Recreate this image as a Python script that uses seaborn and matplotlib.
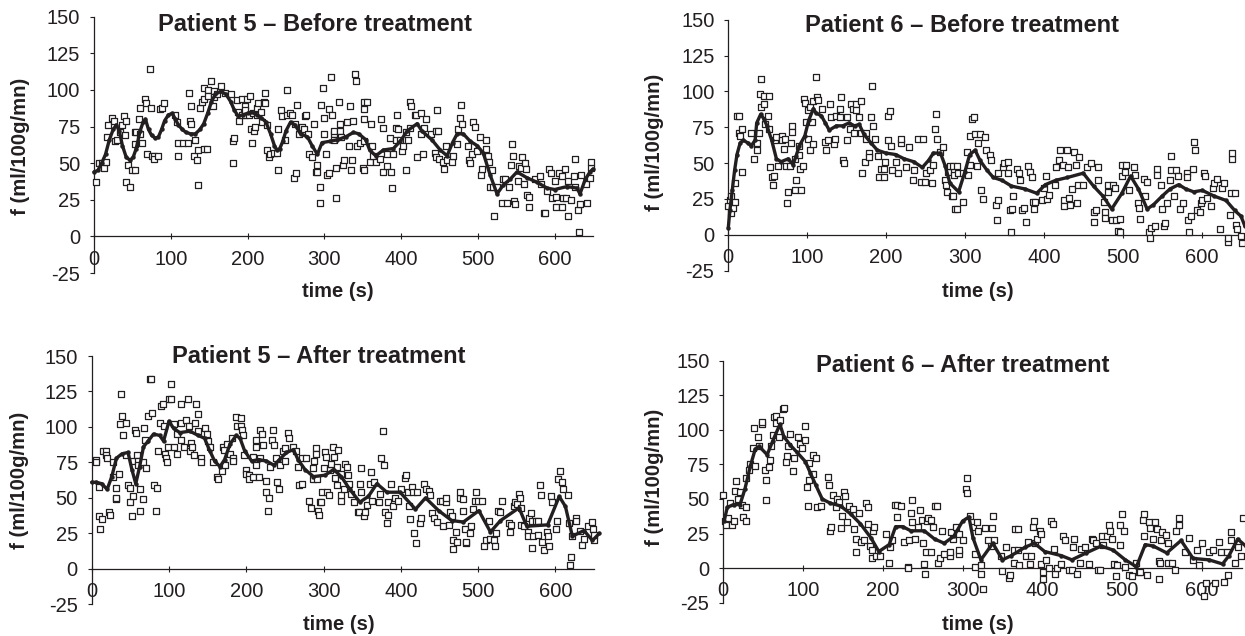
import pandas as pd
import matplotlib
matplotlib.use('Agg')
import matplotlib.pyplot as plt
import seaborn as sns

INK = '#231f20'

# open squares, (time s, f)
p5_before_points = [(3,37),(7,50),(10,50),(13,47),(16,51),(17,68),(18,76),(24,81),(26,79),(28,65),(30,66),(34,71),(36,76),(39,82),(41,69),(42,79),(42,37),(44,49),(47,34),(49,45),(53,45),(53,63),(53,71),(55,71),(58,80),(60,70),(60,88),(63,64),(67,94),(68,91),(69,56),(73,114),(74,88),(75,55),(78,55),(78,53),(84,55),(86,87),(89,88),(91,91),(106,83),(108,78),(110,55),(110,64),(116,64),(122,64),(124,98),(125,79),(126,89),(127,77),(130,55),(132,66),(134,52),(136,35),(136,59),(138,88),(141,92),(143,94),(143,101),(143,60),(147,60),(149,100),(149,96),(152,106),(155,89),(156,99),(156,95),(160,97),(165,103),(171,98),(179,97),(181,50),(181,65),(183,67),(186,93),(187,85),(189,79),(193,94),(193,83),(197,89),(197,83),(197,86),(199,94),(202,83),(203,96),(204,73),(206,64),(207,84),(208,72),(210,75),(212,88),(212,83),(213,91),(218,85),(219,78),(221,92),(223,98),(223,91),(226,76),(226,59),(228,54),(229,56),(234,57),(238,57),(240,73),(240,45),(243,86),(245,82),(249,66),(251,100),(252,83),(255,84),(258,83),(260,40),(262,77),(263,43),(265,90),(267,70),(271,75),(274,73),(275,82),(276,83),(279,70),(280,56),(284,54),(286,77),(289,44),(290,49),(291,44),(294,23),(295,34),(296,90),(298,101),(300,81),(300,70),(302,56),(304,42),(306,43),(306,87),(309,109),(310,83),(312,70),(313,72),(313,66),(315,26),(315,47),(319,92),(320,77),(321,72),(322,68),(324,49),(325,52),(329,78),(332,62),(334,89),(335,45),(336,52),(337,79),(340,111),(341,106),(343,62),(347,64),(351,47),(352,87),(352,80),(352,65),(352,92),(352,45),(355,92),(359,51),(361,77),(362,62),(363,55),(367,51),(372,53),(374,80),(376,74),(377,44),(382,56),(382,48),(386,67),(387,44),(388,33),(390,56),(393,74),(393,66),(395,83),(396,73),(399,66),(401,58),(403,62),(406,45),(407,71),(409,66),(411,74),(412,92),(413,89),(418,83),(420,83),(421,54),(426,84),(426,70),(428,56),(430,74),(432,80),(439,70),(444,57),(445,72),(445,54),(447,86),(448,72),(450,53),(455,51),(456,46),(458,62),(460,52),(466,51),(467,55),(473,63),(474,73),(477,81),(478,90),(480,77),(487,62),(488,52),(490,50),(492,56),(494,78),(496,75),(499,58),(503,68),(504,42),(505,46),(510,66),(511,60),(513,55),(515,51),(516,34),(518,45),(520,34),(521,14),(525,34),(531,23),(533,39),(535,39),(538,23),(541,34),(543,49),(544,63),(546,55),(547,24),(549,22),(552,38),(553,48),(556,47),(557,54),(560,36),(561,50),(563,46),(564,28),(566,20),(567,27),(575,39),(581,41),(582,36),(586,16),(587,16),(590,31),(593,46),(595,43),(596,26),(600,38),(602,27),(602,20),(606,43),(609,41),(610,20),(611,26),(614,46),(615,26),(618,38),(618,14),(621,25),(625,41),(626,53),(627,34),(631,18),(632,3),(633,22),(635,42),(641,36),(642,23),(646,40),(647,47),(648,51)]
p5_before_line = [(0,44),(5,45),(10,50),(15,56),(20,66),(25,73),(29,76),(33,72),(37,62),(42,54),(47,52),(51,54),(55,60),(60,72),(64,78),(67,80),(71,73),(75,69),(80,67),(84,68),(88,73),(92,79),(97,83),(102,84),(106,80),(110,76),(115,73),(120,71),(126,70),(132,70),(138,73),(143,77),(148,84),(153,92),(158,97),(165,99),(172,97),(178,92),(183,86),(188,82),(194,83),(200,84),(205,85),(212,83),(218,81),(224,78),(230,70),(235,62),(238,59),(242,60),(246,65),(250,72),(256,78),(262,76),(269,70),(278,68),(284,62),(291,56),(297,64),(308,65),(317,66),(328,68),(338,71),(345,70),(354,66),(359,59),(367,55),(377,59),(390,60),(399,65),(408,72),(421,77),(427,72),(440,66),(451,59),(460,55),(467,64),(473,70),(481,70),(490,65),(499,62),(507,57),(516,42),(525,29),(533,35),(542,39),(551,44),(564,40),(577,37),(590,33),(600,32),(616,34),(629,33),(633,29),(640,39),(646,44),(650,46)]

p6_before_points = [(0,20),(2,24),(3,27),(4,15),(6,19),(8,36),(9,23),(11,83),(13,83),(13,71),(15,69),(17,74),(18,44),(29,71),(32,53),(36,64),(37,59),(39,71),(40,98),(42,109),(42,89),(45,97),(45,91),(47,77),(50,83),(51,97),(52,74),(53,47),(56,40),(57,35),(58,41),(59,66),(61,68),(63,48),(68,69),(68,66),(70,60),(72,67),(73,48),(75,22),(76,30),(78,48),(79,64),(81,76),(81,72),(84,53),(85,31),(86,38),(89,56),(89,62),(91,46),(92,31),(95,48),(96,95),(97,92),(98,79),(101,87),(101,67),(103,59),(104,89),(106,79),(108,63),(108,93),(111,110),(112,96),(114,94),(119,88),(123,65),(124,59),(126,66),(129,91),(130,82),(134,63),(135,67),(137,83),(141,82),(142,88),(143,96),(146,52),(147,50),(150,66),(151,82),(154,74),(156,91),(158,88),(159,71),(162,91),(162,87),(166,82),(168,93),(168,71),(170,43),(173,51),(174,71),(174,67),(179,57),(179,54),(181,82),(182,104),(184,76),(186,67),(190,55),(191,40),(193,46),(197,46),(197,40),(199,51),(202,66),(203,83),(205,86),(206,62),(208,45),(212,51),(215,43),(219,64),(219,67),(225,47),(229,61),(234,38),(235,45),(241,67),(244,37),(247,67),(249,37),(251,43),(256,45),(258,36),(259,49),(262,74),(263,84),(264,67),(268,58),(272,61),(275,38),(276,35),(277,30),(279,44),(281,48),(283,27),(285,48),(285,27),(286,42),(288,18),(290,18),(290,48),(291,43),(298,43),(298,23),(302,58),(304,42),(306,49),(307,69),(309,81),(311,82),(313,70),(315,48),(316,64),(319,70),(321,31),(323,25),(325,68),(327,59),(332,56),(333,52),(339,21),(341,10),(342,24),(342,43),(348,47),(349,50),(354,51),(355,43),(357,17),(358,2),(360,18),(361,27),(366,46),(369,43),(370,38),(372,17),(375,19),(377,9),(380,48),(382,44),(385,40),(386,23),(388,18),(389,23),(398,24),(400,33),(403,41),(404,25),(407,28),(414,35),(416,47),(419,52),(421,59),(424,49),(425,24),(426,20),(429,59),(431,47),(432,26),(433,21),(436,32),(438,58),(441,49),(442,22),(443,35),(444,54),(450,35),(455,47),(460,50),(464,16),(464,9),(466,17),(469,47),(469,38),(476,23),(477,16),(478,12),(481,35),(482,30),(486,10),(488,35),(490,33),(491,10),(494,3),(496,2),(497,11),(499,49),(499,41),(503,44),(504,49),(508,31),(514,47),(516,42),(520,22),(521,19),(522,11),(527,39),(528,27),(531,37),(533,2),(534,-2),(536,5),(541,6),(544,46),(544,42),(548,35),(550,18),(553,6),(554,8),(556,22),(560,38),(561,55),(561,45),(565,27),(568,45),(570,41),(573,18),(577,22),(581,43),(582,40),(583,10),(584,2),(586,13),(589,46),(590,65),(592,59),(594,17),(598,16),(599,22),(601,24),(603,43),(604,41),(607,26),(612,20),(615,33),(616,36),(620,39),(623,4),(626,33),(628,36),(633,-5),(634,-2),(636,14),(637,29),(638,53),(639,57),(642,29),(644,7),(645,4),(650,-1),(651,-6)]
p6_before_line = [(0,5),(2,17),(5,31),(8,45),(11,56),(15,64),(19,66),(25,64),(29,62),(34,66),(36,78),(41,84),(45,81),(49,76),(55,66),(61,53),(67,51),(76,53),(82,49),(86,55),(90,62),(97,69),(102,80),(108,88),(111,85),(118,83),(123,78),(128,73),(137,76),(145,76),(153,78),(160,76),(166,77),(172,70),(181,64),(189,59),(200,57),(212,56),(223,53),(235,51),(246,47),(254,52),(260,57),(269,57),(275,48),(281,36),(292,30),(300,44),(306,56),(313,59),(319,52),(328,45),(336,40),(347,38),(359,34),(376,32),(391,29),(402,35),(415,38),(430,40),(450,43),(463,34),(475,27),(486,18),(499,29),(510,41),(520,32),(531,18),(539,21),(550,27),(560,32),(571,35),(580,32),(590,30),(601,31),(616,27),(631,24),(642,17),(650,13),(655,6)]

p5_after_points = [(6,77),(6,75),(9,37),(9,58),(11,28),(13,35),(15,83),(18,83),(19,80),(20,78),(23,40),(24,38),(27,75),(28,65),(31,57),(31,49),(32,50),(35,67),(36,102),(38,123),(39,108),(41,94),(44,103),(44,80),(47,59),(49,57),(50,47),(52,37),(53,51),(53,76),(56,98),(57,96),(59,80),(60,76),(60,73),(62,56),(63,41),(66,49),(66,75),(68,99),(69,91),(70,71),(73,108),(75,134),(77,134),(78,110),(81,59),(83,41),(85,57),(86,83),(89,103),(90,115),(92,116),(94,101),(95,81),(96,78),(98,75),(99,86),(100,120),(102,130),(103,120),(106,86),(106,102),(110,95),(111,81),(115,116),(116,103),(116,91),(119,86),(122,105),(124,120),(126,101),(127,83),(129,89),(130,86),(133,80),(134,103),(135,116),(137,109),(138,97),(141,78),(141,75),(146,99),(149,95),(150,90),(153,86),(157,75),(162,65),(163,63),(168,69),(170,86),(171,84),(172,73),(175,88),(179,81),(181,92),(183,78),(183,76),(187,107),(188,101),(193,106),(193,101),(195,98),(196,94),(197,80),(200,70),(200,67),(203,66),(203,63),(209,65),(209,79),(212,91),(213,86),(213,73),(217,65),(218,98),(218,78),(220,95),(222,87),(225,62),(226,54),(228,41),(230,50),(231,72),(233,91),(234,98),(236,87),(238,78),(240,61),(242,56),(244,73),(248,83),(250,85),(250,76),(254,96),(255,92),(261,86),(264,83),(267,72),(268,59),(272,60),(272,78),(277,78),(281,48),(284,43),(286,63),(287,71),(288,76),(290,85),(290,81),(291,63),(293,41),(294,38),(295,47),(297,47),(298,54),(300,71),(302,82),(303,79),(305,54),(307,52),(308,70),(310,74),(312,86),(314,79),(315,64),(317,59),(318,72),(319,84),(322,48),(323,52),(323,67),(326,56),(328,74),(330,72),(332,66),(333,60),(336,53),(340,47),(344,40),(346,40),(347,60),(348,71),(349,54),(352,37),(354,40),(356,45),(360,60),(361,68),(363,48),(365,61),(372,47),(373,53),(375,78),(377,97),(378,73),(379,40),(382,32),(383,38),(384,47),(387,60),(390,44),(392,50),(397,48),(400,56),(405,64),(407,66),(409,54),(411,44),(412,35),(415,58),(416,54),(417,25),(420,18),(421,54),(425,32),(426,36),(430,60),(432,56),(437,55),(438,52),(441,39),(443,36),(447,33),(451,48),(453,48),(455,30),(458,47),(459,50),(463,31),(464,40),(466,37),(467,20),(468,14),(471,26),(473,19),(476,50),(477,54),(480,49),(480,41),(483,28),(484,18),(484,19),(489,25),(491,30),(493,42),(496,48),(497,54),(500,48),(505,48),(508,16),(510,20),(514,34),(516,21),(521,20),(522,16),(523,25),(526,41),(529,40),(531,48),(540,32),(541,26),(542,31),(546,44),(548,47),(551,46),(553,53),(554,50),(556,43),(556,31),(559,30),(564,26),(564,23),(566,36),(568,39),(570,34),(570,15),(571,23),(575,34),(577,24),(578,34),(580,59),(581,52),(583,19),(585,13),(589,26),(590,23),(592,16),(595,51),(596,47),(601,28),(602,34),(603,63),(606,69),(608,61),(610,56),(616,52),(618,32),(619,3),(620,8),(621,23),(627,36),(627,34),(632,27),(635,17),(637,21),(642,30),(648,33),(649,28),(650,20),(650,24)]
p5_after_line = [(0,61),(6,61),(13,60),(20,56),(26,65),(32,78),(39,81),(47,82),(52,70),(57,60),(62,72),(67,86),(73,90),(80,95),(88,94),(93,90),(100,104),(106,99),(114,96),(127,97),(138,94),(146,92),(153,83),(159,76),(166,72),(172,77),(179,88),(187,94),(192,92),(198,83),(207,76),(216,77),(226,76),(236,73),(243,77),(252,82),(261,84),(267,77),(276,70),(287,65),(302,66),(313,70),(323,65),(334,56),(347,47),(358,51),(369,60),(382,54),(399,54),(419,42),(432,50),(449,41),(466,34),(481,33),(501,41),(516,26),(529,34),(553,43),(563,30),(590,31),(605,51),(613,44),(622,23),(637,27),(648,20),(657,25)]

p6_after_points = [(0,53),(2,34),(4,31),(6,36),(8,47),(11,31),(13,34),(15,56),(16,63),(19,50),(21,55),(23,46),(25,37),(28,34),(29,44),(29,65),(32,71),(34,75),(37,87),(38,101),(40,74),(44,95),(45,88),(48,104),(49,106),(52,71),(53,49),(54,64),(57,73),(58,78),(60,88),(62,96),(64,109),(66,110),(66,105),(70,95),(71,107),(75,115),(76,116),(79,77),(80,81),(81,88),(84,97),(87,70),(89,80),(94,95),(96,90),(99,87),(102,103),(103,93),(105,59),(106,45),(107,64),(108,76),(112,68),(113,82),(116,80),(118,44),(122,45),(131,66),(132,60),(134,27),(135,30),(137,53),(141,44),(143,50),(145,48),(148,29),(149,38),(151,55),(152,52),(155,33),(158,45),(163,43),(164,28),(166,12),(167,21),(170,40),(173,19),(176,20),(179,47),(181,44),(182,32),(184,16),(186,7),(187,13),(188,27),(189,30),(192,9),(196,9),(204,25),(208,4),(209,15),(212,20),(215,46),(218,46),(218,37),(223,45),(227,19),(231,1),(232,0),(233,20),(235,40),(237,49),(237,33),(240,21),(244,30),(247,42),(249,35),(251,18),(252,3),(253,-4),(254,12),(255,34),(257,36),(260,12),(260,35),(263,30),(265,45),(268,45),(269,4),(272,7),(274,27),(277,10),(284,9),(284,12),(286,26),(288,21),(292,30),(295,10),(295,13),(296,25),(301,20),(304,57),(305,65),(306,54),(309,38),(313,30),(315,10),(315,1),(318,33),(319,27),(323,2),(323,-4),(326,-15),(328,29),(332,20),(336,16),(337,29),(338,38),(340,20),(348,9),(350,-2),(355,15),(358,-7),(360,-5),(365,13),(365,4),(366,28),(369,28),(370,13),(371,2),(379,9),(382,19),(385,3),(386,9),(388,30),(389,34),(391,18),(393,21),(397,27),(398,25),(398,3),(401,-3),(401,-8),(405,6),(409,0),(411,34),(414,32),(415,14),(416,-4),(419,0),(423,3),(426,23),(428,20),(434,-1),(437,-1),(439,15),(440,21),(444,-4),(447,4),(448,14),(453,15),(458,3),(462,21),(464,20),(467,18),(470,-1),(472,-1),(475,23),(476,17),(481,23),(484,31),(485,27),(488,21),(490,3),(492,-6),(494,2),(497,17),(498,31),(500,39),(502,27),(504,1),(509,-5),(513,-6),(517,4),(521,-3),(523,-3),(526,35),(527,39),(528,23),(531,-5),(534,33),(535,29),(539,21),(541,33),(544,28),(546,-8),(546,5),(548,4),(549,20),(550,26),(555,24),(557,18),(558,4),(563,4),(566,-1),(568,27),(571,36),(572,31),(579,12),(584,22),(589,6),(594,13),(596,2),(600,18),(603,-20),(605,-11),(609,12),(614,13),(617,-11),(622,19),(624,12),(628,-10),(631,12),(633,-5),(636,20),(637,26),(641,4),(645,15),(649,9),(652,36)]
p6_after_line = [(1,34),(5,44),(13,46),(21,46),(27,57),(34,74),(40,86),(45,88),(55,82),(62,92),(71,104),(76,95),(84,89),(92,84),(103,77),(109,69),(116,60),(124,50),(134,47),(147,45),(160,39),(172,32),(185,22),(195,12),(208,17),(216,30),(225,30),(235,27),(252,27),(265,21),(277,18),(289,23),(300,34),(308,37),(313,22),(323,6),(338,18),(350,6),(361,9),(378,15),(390,18),(403,12),(424,9),(437,6),(455,11),(474,16),(489,13),(504,6),(518,1),(529,17),(539,16),(556,11),(574,20),(589,7),(609,6),(626,3),(634,9),(645,21),(655,16)]

x_ticks = [0, 100, 200, 300, 400, 500, 600]
y_ticks = [-25, 0, 25, 50, 75, 100, 125, 150]

W, H = 1245, 636
sns.set_theme(style='white')
plt.rcParams['font.family'] = ['Liberation Sans', 'DejaVu Sans']
plt.rcParams['axes.unicode_minus'] = False

fig = plt.figure(figsize=(W / 100, H / 100), dpi=100, facecolor='white')

# title, points, line, pixel box (left, right, y of 150, y of -25), title xy, xlabel xy, ylabel xy
panels = [
    ('Patient 5 – Before treatment', p5_before_points, p5_before_line, (94, 593, 16.7, 273), (314.5, 31), (338, 297), (21, 146)),
    ('Patient 6 – Before treatment', p6_before_points, p6_before_line, (728.3, 1241, 19.7, 270.7), (962, 32), (978, 297), (655, 142)),
    ('Patient 5 – After treatment', p5_after_points, p5_after_line, (91.7, 594, 356, 604.3), (318.5, 363), (339, 630), (20, 480)),
    ('Patient 6 – After treatment', p6_after_points, p6_after_line, (723.3, 1241.7, 360.7, 602.7), (963, 372), (978, 630), (655, 477)),
]

for title, points, line, box, title_xy, xlabel_xy, ylabel_xy in panels:
    left, right, top, bottom = box
    ax = fig.add_axes([left / W, 1 - bottom / H, (right - left) / W, (bottom - top) / H])
    pts = pd.DataFrame(points, columns=['time', 'f'])
    smooth = pd.DataFrame(line, columns=['time', 'f'])

    sns.scatterplot(data=pts, x='time', y='f', ax=ax, marker='s', s=13, color='white',
                    edgecolor=INK, linewidth=0.9, clip_on=False, zorder=3, legend=False)
    sns.lineplot(data=smooth, x='time', y='f', ax=ax, color=INK, linewidth=2.4, marker='o',
                 markersize=3.2, markeredgewidth=0, clip_on=False, zorder=4, errorbar=None)

    ax.set_xlim(0, 650)
    ax.set_ylim(-25, 150)
    ax.set_xticks(x_ticks)
    ax.set_yticks(y_ticks)
    ax.set_xlabel('')
    ax.set_ylabel('')
    ax.patch.set_alpha(0)
    for side in ['top', 'right']:
        ax.spines[side].set_visible(False)
    ax.spines['bottom'].set_position(('data', 0))
    ax.spines['bottom'].set_color(INK)
    ax.spines['left'].set_color(INK)
    ax.spines['bottom'].set_linewidth(0.9)
    ax.spines['left'].set_linewidth(0.9)
    ax.tick_params(axis='y', direction='out', length=3, width=0.8, color=INK, labelcolor=INK, labelsize=14.5, pad=7, left=True)
    ax.tick_params(axis='x', direction='inout', length=5, width=0.8, color=INK, labelcolor=INK, labelsize=14.5, pad=7, bottom=True)

    fig.text(title_xy[0] / W, 1 - title_xy[1] / H, title, ha='center', va='baseline',
             fontsize=17, fontweight='bold', color=INK)
    fig.text(xlabel_xy[0] / W, 1 - xlabel_xy[1] / H, 'time (s)', ha='center', va='baseline',
             fontsize=14.5, fontweight='bold', color=INK)
    fig.text(ylabel_xy[0] / W, 1 - ylabel_xy[1] / H, 'f (ml/100g/mn)', ha='center', va='center',
             rotation=90, fontsize=14.6, fontweight='bold', color=INK)

fig.savefig('out.png', dpi=100)
